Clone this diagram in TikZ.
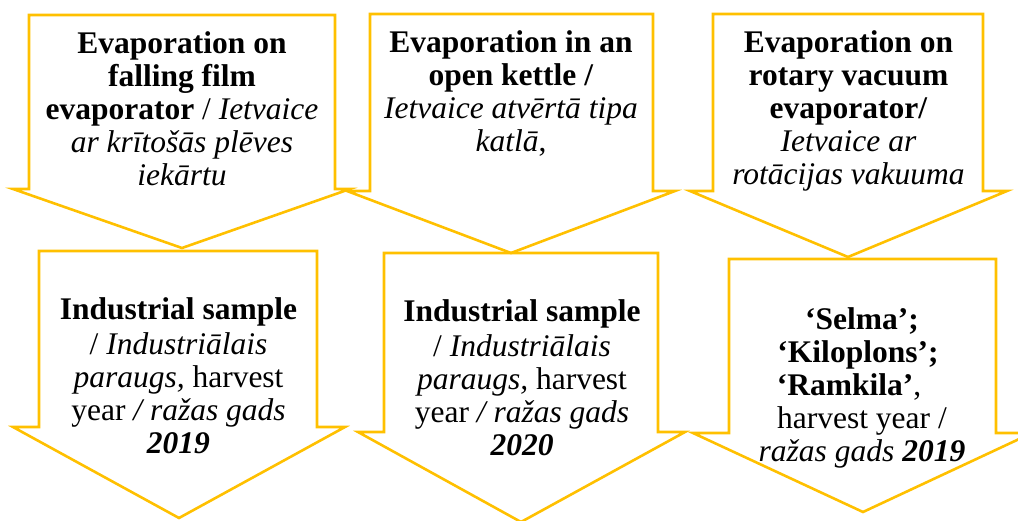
\documentclass[tikz,border=0pt]{standalone}
\usepackage{fontspec}
\setmainfont{Liberation Serif}
\definecolor{gold}{RGB}{255,192,0}
\tikzset{
  flowarrow/.style={draw=gold, line width=2.6pt, line join=miter},
  label/.style={anchor=base, inner sep=0pt, text=black},
}
\newcommand{\boxtext}[1]{\parbox[t]{340pt}{\centering\fontsize{31.5}{33}\selectfont #1}}
\newcommand{\padright}[1]{\makebox[#1]{}}
\begin{document}
\begin{tikzpicture}[x=1pt, y=-1pt]
\useasboundingbox (0,0) rectangle (1018,521);

% upper row: evaporation methods
\draw[flowarrow] (29,15) -- (335,15) -- (335,189) -- (350,189) -- (182,248) -- (13,189) -- (29,189) -- cycle;
\draw[flowarrow] (370,14) -- (653,14) -- (653,191) -- (675,191) -- (511,253) -- (347,191) -- (370,191) -- cycle;
\draw[flowarrow] (713,14) -- (983,14) -- (983,191) -- (1007,191) -- (848,257) -- (690,191) -- (713,191) -- cycle;

% lower row: samples
\draw[flowarrow] (39,251) -- (317,251) -- (317,427) -- (345,427) -- (179,518) -- (13,427) -- (39,427) -- cycle;
\draw[flowarrow] (384,253) -- (658,253) -- (658,432) -- (685,432) -- (521,522) -- (358,432) -- (384,432) -- cycle;
\draw[flowarrow] (729,259) -- (996,259) -- (996,433) -- (1032,433) -- (863,512) -- (693,433) -- (729,433) -- cycle;

\node[label] (t1) at (182,54) {\boxtext{%
  \textbf{Evaporation on}\\
  \textbf{falling film}\\
  \textbf{evaporator} / \textit{Ietvaice}\\
  \textit{ar krītošās plēves}\\
  \textit{iekārtu}}};

\node[label] (t2) at (511,53) {\boxtext{%
  \textbf{Evaporation in an}\\
  \textbf{open kettle /}\\
  \textit{Ietvaice atvērtā tipa}\\
  \textit{katlā},}};

\node[label] (t3) at (848.5,53) {\boxtext{%
  \textbf{Evaporation on}\\
  \textbf{rotary vacuum}\\
  \textbf{evaporator/}\\
  \textit{Ietvaice ar}\\
  \textit{rotācijas vakuuma}}};

\node[label] (t4) at (178.5,320) {\boxtext{%
  \textbf{Industrial sample}\\[1.5pt]
  / \textit{Industriālais}\\
  \textit{paraugs,} harvest\\
  year \textit{/ ražas gads}\\
  \textbf{\textit{2019}}}};

\node[label] (t5) at (522,322) {\boxtext{%
  \textbf{Industrial sample}\\[1.5pt]
  / \textit{Industriālais}\\
  \textit{paraugs,} harvest\\
  year \textit{/ ražas gads}\\
  \textbf{\textit{2020}}}};

\node[label] (t6) at (862,330) {\boxtext{%
  \textbf{‘Selma’;}\\
  \textbf{‘Kiloplons’;}\padright{8pt}\\
  \textbf{‘Ramkila’},\padright{26pt}\\
  harvest year /\\
  \textit{ražas gads} \textbf{\textit{2019}}}};
\end{tikzpicture}
\end{document}
